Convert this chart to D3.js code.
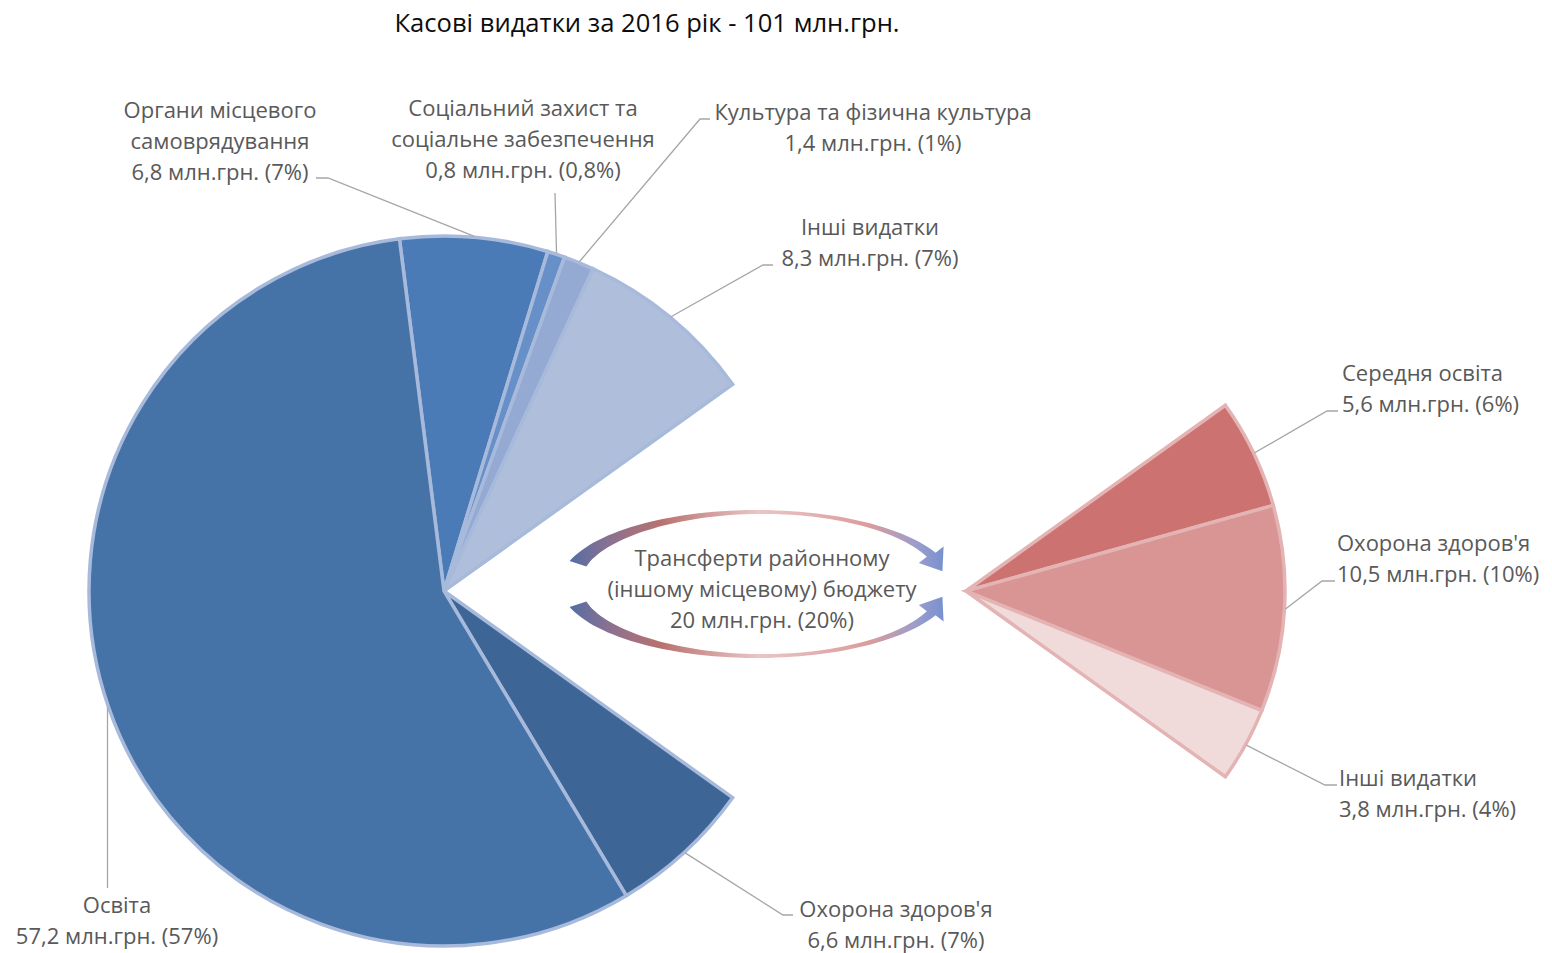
<!DOCTYPE html>
<html><head><meta charset="utf-8">
<script src="https://cdn.jsdelivr.net/npm/d3@7"></script>
<style>
html,body{margin:0;padding:0;background:#fff;}
svg{display:block;font-family:"Open Sans",sans-serif;}
</style></head>
<body>
<svg id="chart" width="1552" height="953"></svg>
<script>
// ---------- DATA ----------
const title = "Касові видатки за 2016 рік - 101 млн.грн.";
const mainNames = [
  ["Органи місцевого","самоврядування"],
  ["Соціальний захист та","соціальне забезпечення"],
  ["Культура та фізична культура"],
  ["Інші видатки"],
  ["Трансферти районному","(іншому місцевому) бюджету"],
  ["Охорона здоров'я"],
  ["Освіта"]
];
const mainValues = [6.8, 0.8, 1.4, 8.3, 20, 6.6, 57.2];
const mainPct = ["7%", "0,8%", "1%", "7%", "20%", "7%", "57%"];
const transferIndex = 4;
const subNames = [["Середня освіта"], ["Охорона здоров'я"], ["Інші видатки"]];
const subValues = [5.6, 10.5, 3.8];
const subPct = ["6%", "10%", "4%"];

// ---------- STYLE / LAYOUT ----------
const mainColors = ["#4A7BB7", "#6890C8", "#95AAD3", "#AFBFDB", "none", "#3D6596", "#4673A7"];
const subColors = ["#CC7270", "#D99594", "#F0DADA"];
const mainCenter = [444, 591], mainR = 355;
const subCenter = [966, 591], subR = 319;
const fontSize = 22, titleSize = 25.6, lineH = 31;
const labelColor = "#595959", leaderColor = "#A6A6A6";

const mainLayout = [
  {x:220, y:109, anchor:"middle", elbow:[[316,178],[328,178]]},
  {x:523, y:107, anchor:"middle", elbow:[[555,193]]},
  {x:873, y:111, anchor:"middle", elbow:[[710,119],[700,119]]},
  {x:870, y:226, anchor:"middle", elbow:[[773,265],[763,265]]},
  null,
  {x:896, y:908, anchor:"middle", elbow:[[793,915],[783,915]]},
  {x:117, y:904, anchor:"middle", elbow:[[null,888]]}
];
const subLayout = [
  {x:1342, y:372, anchor:"start", elbow:[[1338,411],[1327,411]]},
  {x:1337, y:542, anchor:"start", elbow:[[1335,581],[1322,581]]},
  {x:1339, y:777, anchor:"start", elbow:[[1337,785],[1325,785]]}
];

const fmt = v => (Number.isInteger(v) ? String(v) : v.toFixed(1).replace(".", ",")) + " млн.грн.";

const svg = d3.select("#chart");

svg.append("text").attr("x", 647).attr("y", 22).attr("text-anchor", "middle")
  .attr("dominant-baseline", "central").attr("font-size", titleSize).attr("fill", "#0D0D0D")
  .text(title);

// ---------- MAIN PIE ----------
const total = d3.sum(mainValues);
const before = d3.sum(mainValues.slice(0, transferIndex));
const startA = Math.PI / 2 - (before + mainValues[transferIndex] / 2) / total * 2 * Math.PI;
const mainPie = d3.pie().sort(null).value(d => d).startAngle(startA).endAngle(startA + 2 * Math.PI);
const mainArcs = mainPie(mainValues);
const arcMain = d3.arc().innerRadius(0).outerRadius(mainR);

const gMain = svg.append("g").attr("transform", `translate(${mainCenter})`);
gMain.selectAll("path").data(mainArcs.filter((d, i) => i !== transferIndex)).join("path")
  .attr("d", arcMain)
  .attr("fill", d => mainColors[d.index])
  .attr("stroke", "#A8BADB").attr("stroke-width", 3.5).attr("stroke-linejoin", "miter");

// ---------- SECONDARY PIE (wedge) ----------
const tr = mainArcs[transferIndex];
const subPie = d3.pie().sort(null).value(d => d).startAngle(tr.startAngle).endAngle(tr.endAngle);
const subArcs = subPie(subValues);
const arcSub = d3.arc().innerRadius(0).outerRadius(subR);
const gSub = svg.append("g").attr("transform", `translate(${subCenter})`);
gSub.selectAll("path").data(subArcs).join("path")
  .attr("d", arcSub)
  .attr("fill", d => subColors[d.index])
  .attr("stroke", "#E4B4B4").attr("stroke-width", 3.5).attr("stroke-linejoin", "miter");

// ---------- LABELS & LEADERS ----------
function edgePoint(center, r, d) {
  const a = (d.startAngle + d.endAngle) / 2;
  return [center[0] + r * Math.sin(a), center[1] - r * Math.cos(a)];
}
function drawLabel(lines, lay) {
  const t = svg.append("text").attr("font-size", fontSize).attr("fill", labelColor)
    .attr("text-anchor", lay.anchor).attr("dominant-baseline", "central");
  lines.forEach((s, i) => t.append("tspan").attr("x", lay.x).attr("y", lay.y + i * lineH).text(s));
}
function drawLeader(p0, lay) {
  const pts = lay.elbow.map(p => [p[0] === null ? p0[0] : p[0], p[1]]);
  pts.push(p0);
  svg.append("path").attr("d", d3.line()(pts)).attr("fill", "none")
    .attr("stroke", leaderColor).attr("stroke-width", 1.3);
}
mainArcs.forEach((d, i) => {
  const lay = mainLayout[i];
  if (!lay) return;
  drawLabel([...mainNames[i], fmt(mainValues[i]) + " (" + mainPct[i] + ")"], lay);
  drawLeader(edgePoint(mainCenter, mainR + 1, d), lay);
});
subArcs.forEach((d, i) => {
  const lay = subLayout[i];
  drawLabel([...subNames[i], fmt(subValues[i]) + " (" + subPct[i] + ")"], lay);
  drawLeader(edgePoint(subCenter, subR + 1, d), lay);
});

// ---------- TRANSFER CENTER LABEL & CURVED ARROWS ----------
drawLabel([...mainNames[transferIndex], fmt(mainValues[transferIndex]) + " (" + mainPct[transferIndex] + ")"],
  {x: 762, y: 557, anchor: "middle"});

const defs = svg.append("defs");
const grad = defs.append("linearGradient").attr("id", "arrowGrad")
  .attr("gradientUnits", "userSpaceOnUse").attr("x1", 562).attr("x2", 955).attr("y1", 0).attr("y2", 0);
[[0, "#4A6DA8"], [0.12, "#8A7190"], [0.25, "#B8726F"], [0.5, "#EAC6C6"], [0.78, "#DB9C9B"], [0.9, "#9C9DCB"], [1, "#6A8CD2"]]
  .forEach(([o, c]) => grad.append("stop").attr("offset", o).attr("stop-color", c));

function curvedArrow(sign) {
  const cx = 757, cy = 584, rx = 197, ry = 74;
  const th0 = 162 * Math.PI / 180, th1 = 25 * Math.PI / 180;
  const N = 60, outer = [], inner = [];
  const w = t => 1.6 + 16 * Math.pow(1 - t, 3) + 8 * Math.pow(t, 4);
  for (let k = 0; k <= N; k++) {
    const t = k / N, th = th0 + (th1 - th0) * t, o = w(t);
    outer.push([cx + rx * Math.cos(th), cy - sign * ry * Math.sin(th)]);
    inner.push([cx + (rx - o) * Math.cos(th), cy - sign * (ry - o) * Math.sin(th)]);
  }
  const thE = th1, wE = w(1);
  const mid = [cx + (rx - wE / 2) * Math.cos(thE), cy - sign * (ry - wE / 2) * Math.sin(thE)];
  let dir = [Math.sin(thE) * rx, sign * Math.cos(thE) * ry];
  const ang = Math.atan2(dir[1], dir[0]) + sign * 0.3;
  dir = [Math.cos(ang), Math.sin(ang)];
  const nrm = [-dir[1], dir[0]];
  const hw = 15, hl = 20;
  const b1 = [mid[0] + nrm[0] * hw, mid[1] + nrm[1] * hw];
  const b2 = [mid[0] - nrm[0] * hw, mid[1] - nrm[1] * hw];
  const tip = [mid[0] + dir[0] * hl, mid[1] + dir[1] * hl];
  const pts = outer.concat([sign > 0 ? b2 : b1, tip, sign > 0 ? b1 : b2], inner.reverse());
  return "M" + pts.map(p => p[0].toFixed(1) + "," + p[1].toFixed(1)).join("L") + "Z";
}
svg.append("path").attr("d", curvedArrow(1)).attr("fill", "url(#arrowGrad)");
svg.append("path").attr("d", curvedArrow(-1)).attr("fill", "url(#arrowGrad)");
</script>
</body></html>
